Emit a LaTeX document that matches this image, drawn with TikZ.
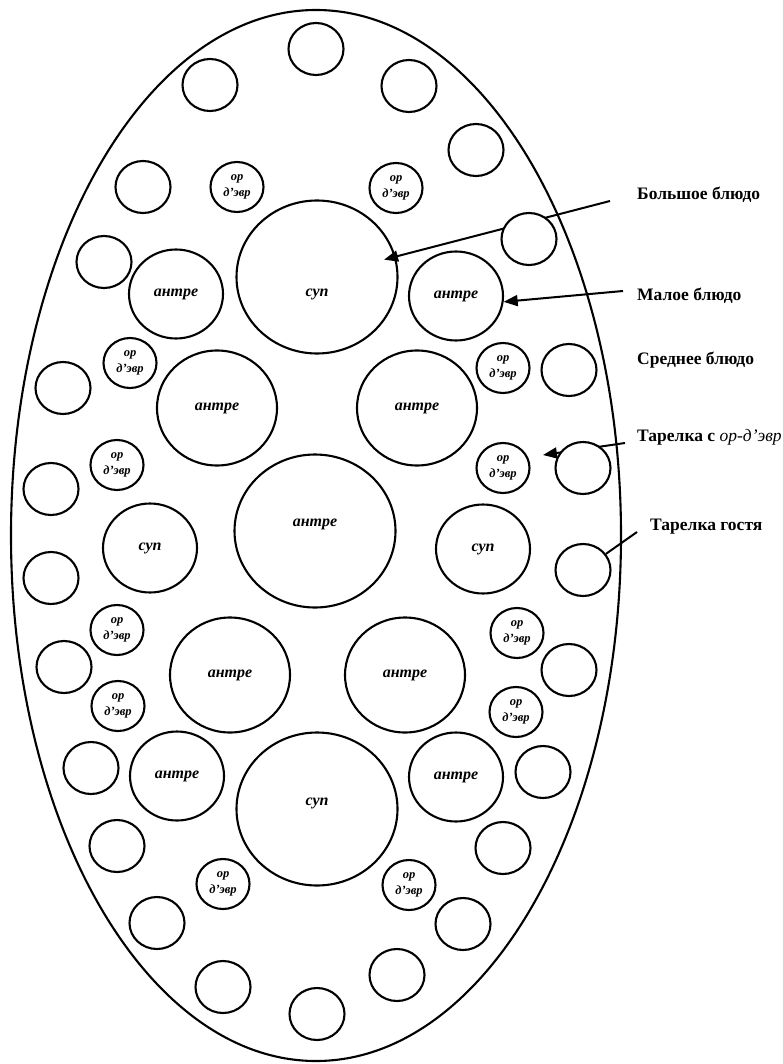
\documentclass[tikz,border=0pt]{standalone}
\usepackage{fontspec}
\setmainfont{Liberation Serif}
\usetikzlibrary{shapes.geometric,arrows.meta}
\begin{document}
\begin{tikzpicture}[x=1pt,y=-1pt,
  dish/.style={draw,ellipse,inner sep=0pt,line width=2.1pt,font=\fontsize{16}{18}\selectfont\bfseries\itshape},
  plate/.style={draw,ellipse,fill=white,inner sep=0pt,line width=2.1pt,minimum width=55pt,minimum height=52pt},
  ord/.style={dish,minimum width=53pt,minimum height=50pt,align=center,font=\fontsize{12.5}{15.5}\selectfont\bfseries\itshape},
  smalld/.style={dish,minimum width=94pt,minimum height=89pt},
  midd/.style={dish,minimum width=120pt,minimum height=115pt},
  bigd/.style={dish,minimum width=161pt,minimum height=153pt},
  txt/.style={inner sep=0pt,font=\fontsize{16}{18}\selectfont\bfseries\itshape},
  lab/.style={anchor=base west,inner sep=0pt,font=\fontsize{17.5}{20}\selectfont\bfseries},
  arr/.style={line width=2pt,-{Triangle[length=14pt,width=11pt]}},
  conn/.style={line width=2pt}]
\useasboundingbox (0,0) rectangle (783,1064);
\node[draw,ellipse,line width=2.1pt,minimum width=610pt,minimum height=1051pt,inner sep=0pt] (table) at (316,535.5) {};
% big dishes
\node[bigd] (supT) at (317,277) {};
\node[txt] (supTt) at ([yshift=-17pt]supT.center) {суп};
\node[bigd] (antreC) at (315,531) {};
\node[txt] (antreCt) at ([yshift=7pt]antreC.center) {антре};
\node[bigd] (supB) at (317,809) {};
\node[txt] (supBt) at ([yshift=6pt]supB.center) {суп};
% small dishes
\node[smalld] (antreTL) at (176,294) {антре};
\node[smalld] (antreTR) at (456,296) {антре};
\node[smalld] (antreBL) at (177,776) {антре};
\node[smalld] (antreBR) at (456,777) {антре};
\node[smalld] (supL) at (150,548) {суп};
\node[smalld] (supR) at (483,549) {суп};
% medium dishes
\node[midd] (antreML) at (217,408) {антре};
\node[midd] (antreMR) at (417,408) {антре};
\node[midd] (antreLL) at (230,675) {антре};
\node[midd] (antreLR) at (405,675) {антре};
% hors d'oeuvre
\foreach \n/\x/\y in {1/237/187,2/396/188,3/130/363,4/503/368,5/117/465,6/503/468,7/117/630,8/517/633,9/118/706,10/516/712,11/223/884,12/409/885}
  \node[ord] (o\n) at (\x,\y) {ор\\д'эвр};
% labels
\node[lab] (l1) at (637,200) {Большое блюдо};
\node[lab] (l2) at (637,301) {Малое блюдо};
\node[lab] (l3) at (637,364) {Среднее блюдо};
\node[lab] (l4) at (637,441) {Тарелка с \mdseries\itshape ор-д'эвр};
\node[lab] (l5) at (650,530) {Тарелка гостя};
% connectors
\coordinate (c1) at (610,201);
\coordinate (c2) at (623,291);
\coordinate (c4) at (625,443);
\coordinate (c4e) at (543,455);
\coordinate (c5) at (637,532);
\draw[arr,shorten >=-12pt] (c1) -- (supT);
\draw[arr] (c2) -- (antreTR.-7);
\draw[arr] (c4) -- (c4e);
% guest plates
\foreach \n/\x/\y in {1/316/49,2/210/85,3/409/86,4/143/187,5/476/150,6/104/262,7/529/239,8/63/388,9/569/370,10/51/489,11/583/468,12/51/578,13/583/570,14/64/667,15/569/670,16/91/768,17/543/772,18/117/846,19/503/848,20/157/923,21/463/924,22/223/987,23/397/975,24/317/1014}
  \node[plate] (p\n) at (\x,\y) {};
\draw[conn] (c5) -- (p13);
\end{tikzpicture}
\end{document}
